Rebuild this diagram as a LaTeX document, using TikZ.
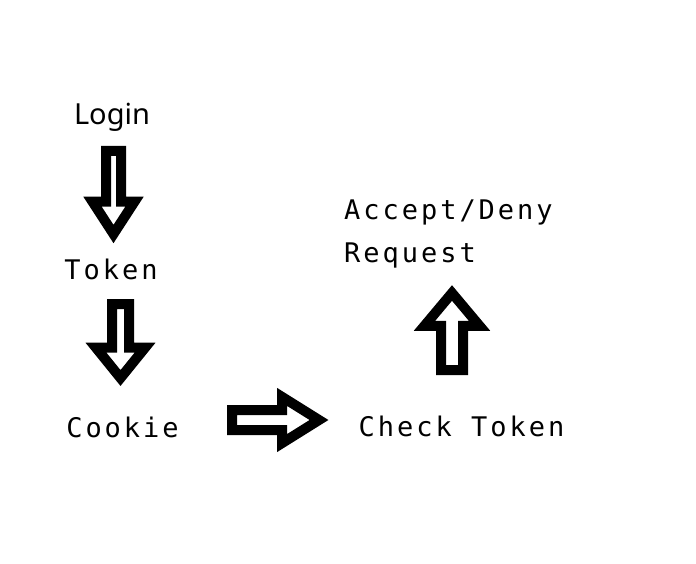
\documentclass[tikz,border=0pt]{standalone}
\usepackage{fontspec}
\newfontfamily\flowmono[LetterSpace=11]{DejaVu Sans Mono}
\newfontfamily\flowsans{Noto Sans}
\usetikzlibrary{shapes.arrows}

\begin{document}
\begin{tikzpicture}[x=1pt, y=1pt,
    steplabel/.style={font=\flowmono\fontsize{27}{43}\selectfont, inner sep=0},
    blockarrow/.style n args={4}{single arrow, draw, line width=10pt, inner xsep=0,
                inner ysep=#1, single arrow head extend=#2, minimum height=#3,
                single arrow tip angle=#4, anchor=tail},
  ]
    \useasboundingbox (0,0) rectangle (696,-564);

    % Client side
    \node[font=\flowsans\fontsize{29}{34}\selectfont, inner sep=0, anchor=base] (login) at (112,-125) {Login};
    \node[steplabel, anchor=base] (token)  at (111,-279) {Token};
    \node[steplabel, anchor=base] (cookie) at (122.5,-437) {Cookie};

    % Server side
    \node[steplabel, anchor=base] (check) at (461.5,-436) {Check Token};
    \node[steplabel, anchor=base west, align=left] (decide) at (344,-262) {Accept/Deny\\Request};

    % Arrows
    \node[blockarrow={2.5}{13.5}{83}{66}, rotate=-90] (logintotoken)  at (113.5,-146) {};
    \node[blockarrow={3.5}{16}{74}{78},   rotate=-90] (tokentocookie) at (120.5,-299) {};
    \node[blockarrow={5}{13}{87}{64}]                 (cookietocheck) at (227,-420) {};
    \node[blockarrow={6}{16.5}{77}{80},   rotate=90]  (checktodecide) at (452,-375) {};
  \end{tikzpicture}
\end{document}
